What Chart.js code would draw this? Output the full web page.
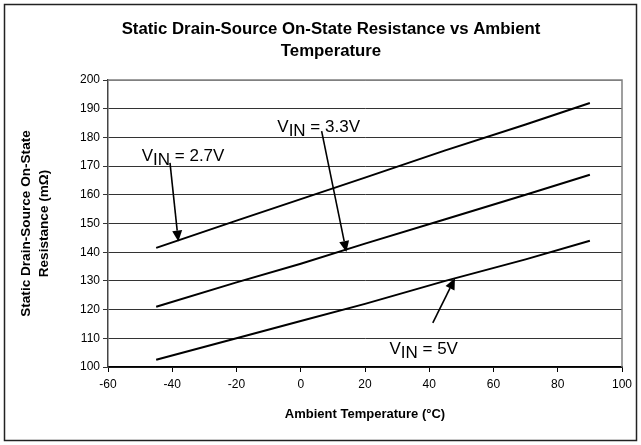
<!DOCTYPE html>
<html><head><meta charset="utf-8">
<script src="https://cdn.jsdelivr.net/npm/chart.js@4/dist/chart.umd.min.js"></script>
<style>html,body{margin:0;padding:0;background:#fff}#wrap{width:641px;height:445px;position:relative}</style>
</head><body><div id="wrap"><canvas id="c" width="641" height="445"></canvas></div>
<script>
// ---- data ----
const temperatures = [-45, -20, 0, 20, 45, 70, 90];
const rds27 = [141.5, 151, 158.5, 166, 175.5, 184.5, 192];
const rds33 = [121, 129.5, 136, 143, 151.5, 160, 167];
const rds50 = [102.5, 110, 116, 122, 130, 137.5, 144];
const seriesNames = ['VIN = 2.7V', 'VIN = 3.3V', 'VIN = 5V'];
const xTickValues = [-60, -40, -20, 0, 20, 40, 60, 80, 100];
const yTickValues = [100, 110, 120, 130, 140, 150, 160, 170, 180, 190, 200];
const titleLines = ['Static Drain-Source On-State Resistance vs Ambient', 'Temperature'];
const yTitleLines = ['Static Drain-Source On-State', 'Resistance (mΩ)'];
const xTitle = 'Ambient Temperature (°C)';
// annotation labels: main, subscript, rest; anchors in data units
const labelMain = ['V', 'V', 'V'];
const labelSub = ['IN', 'IN', 'IN'];
const labelRest = [' = 2.7V', ' = 3.3V', ' = 5V'];
const labelAt = [[-49.5, 171.7], [-7.3, 181.8], [27.6, 104.4]];
const arrowFrom = [[-40.7, 171.1], [6.5, 182.2], [41.1, 115.4]];
const arrowTo = [[-38.1, 143.7], [14.2, 140.1], [48.0, 130.9]];

const FONT = 'Arial, "Liberation Sans", Helvetica, sans-serif';
Chart.defaults.font.family = FONT;
Chart.defaults.color = '#000';

function pts(vals) { return temperatures.map((t, i) => ({x: t, y: vals[i]})); }

const frame = {
  id: 'frame',
  afterLayout(chart) {
    const tb = chart.titleBlock;
    if (tb) { tb.left = 20; tb.right = 642; tb.width = tb.right - tb.left; }
  },
  beforeDraw(chart) {
    const c = chart.ctx;
    c.save();
    c.fillStyle = '#fff';
    c.fillRect(0, 0, chart.width, chart.height);
    c.strokeStyle = '#222';
    c.lineWidth = 1.5;
    c.strokeRect(4.5, 4.5, 632, 436);
    c.restore();
  },
  beforeDatasetsDraw(chart) {
    const {ctx: c, chartArea: a} = chart;
    c.save();
    c.strokeStyle = '#808080';
    c.lineWidth = 1.5;
    c.beginPath();
    c.moveTo(a.left, a.top); c.lineTo(a.right, a.top); c.lineTo(a.right, a.bottom);
    c.stroke();
    c.restore();
  }
};

const vinLabels = {
  id: 'vinLabels',
  afterDatasetsDraw(chart) {
    const {ctx: c, scales: {x, y}} = chart;
    c.save();
    c.fillStyle = '#000';
    c.strokeStyle = '#000';
    c.textAlign = 'left';
    c.textBaseline = 'alphabetic';
    c.font = '17px ' + FONT;
    for (let i = 0; i < labelMain.length; i++) {
      const tx = x.getPixelForValue(labelAt[i][0]);
      const ty = y.getPixelForValue(labelAt[i][1]);
      c.fillText(labelMain[i], tx, ty);
      let w = c.measureText(labelMain[i]).width;
      c.fillText(labelSub[i], tx + w, ty + 4);
      w += c.measureText(labelSub[i]).width;
      c.fillText(labelRest[i], tx + w, ty);
      const x0 = x.getPixelForValue(arrowFrom[i][0]), y0 = y.getPixelForValue(arrowFrom[i][1]);
      const x1 = x.getPixelForValue(arrowTo[i][0]), y1 = y.getPixelForValue(arrowTo[i][1]);
      const ang = Math.atan2(y1 - y0, x1 - x0);
      const hl = 11, hw = 5;
      const bx = x1 - hl * Math.cos(ang), by = y1 - hl * Math.sin(ang);
      c.lineWidth = 1.6;
      c.beginPath(); c.moveTo(x0, y0); c.lineTo(bx, by); c.stroke();
      c.beginPath();
      c.moveTo(x1, y1);
      c.lineTo(bx + hw * Math.sin(ang), by - hw * Math.cos(ang));
      c.lineTo(bx - hw * Math.sin(ang), by + hw * Math.cos(ang));
      c.closePath(); c.fill();
    }
    c.restore();
  }
};

const lineStyle = {borderColor: '#000', borderWidth: 2, pointRadius: 0, showLine: true, fill: false, tension: 0};

new Chart(document.getElementById('c'), {
  type: 'scatter',
  data: {
    datasets: [
      {label: seriesNames[0], data: pts(rds27), ...lineStyle},
      {label: seriesNames[1], data: pts(rds33), ...lineStyle},
      {label: seriesNames[2], data: pts(rds50), ...lineStyle}
    ]
  },
  options: {
    responsive: false,
    animation: false,
    events: [],
    layout: {padding: {left: 10, right: 19, top: 6, bottom: 6}},
    plugins: {
      legend: {display: false},
      tooltip: {enabled: false},
      title: {
        display: true,
        text: titleLines,
        color: '#000',
        font: {size: 16.8, weight: 'bold', lineHeight: 1.31},
        padding: {top: 12, bottom: 18}
      }
    },
    scales: {
      x: {
        type: 'linear',
        min: -60, max: 100,
        afterBuildTicks(s) { s.ticks = xTickValues.map(v => ({value: v})); },
        afterFit(s) { s.height = 445 - 6 - 367; },
        ticks: {color: '#000', font: {size: 12}, padding: 5, maxRotation: 0},
        grid: {drawOnChartArea: false, drawTicks: true, tickLength: 5, tickColor: '#000'},
        border: {display: true, color: '#000', width: 1.5},
        title: {display: true, text: xTitle, color: '#000', font: {size: 13, weight: 'bold', lineHeight: 1.2}, padding: {top: 0, bottom: 17}}
      },
      y: {
        type: 'linear',
        min: 100, max: 200,
        afterBuildTicks(s) { s.ticks = yTickValues.map(v => ({value: v})); },
        afterFit(s) { s.width = 108 - 10; },
        ticks: {color: '#000', font: {size: 12}, padding: 3},
        grid: {
          color: ctx => (ctx.tick && ctx.tick.value === 200) ? '#808080' : '#333',
          lineWidth: 1,
          drawTicks: true, tickLength: 5, tickColor: '#333'
        },
        border: {display: true, color: '#444', width: 1.5},
        title: {display: true, text: yTitleLines, color: '#000', font: {size: 13.6, weight: 'bold', lineHeight: 1.27}, padding: {top: 8, bottom: 0}}
      }
    }
  },
  plugins: [frame, vinLabels]
});
</script></body></html>
